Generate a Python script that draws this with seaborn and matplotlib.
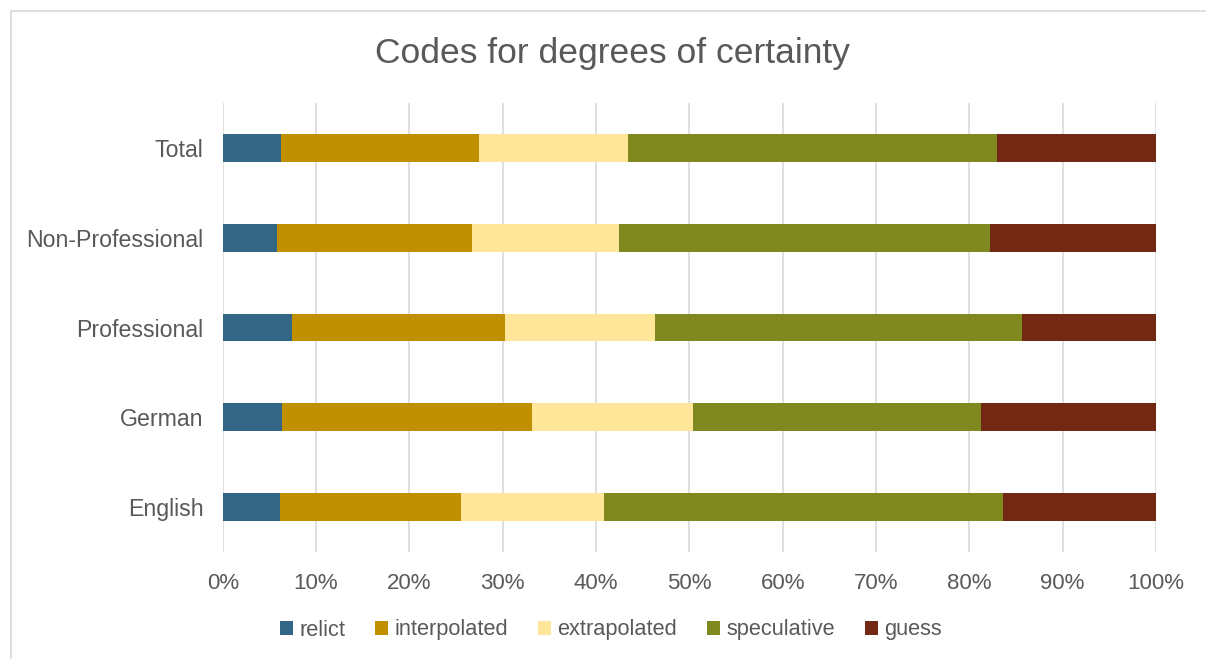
import matplotlib
matplotlib.use("Agg")
import matplotlib.pyplot as plt
import seaborn as sns
import pandas as pd
import numpy as np
from matplotlib.lines import Line2D
from matplotlib.patches import Patch

categories = ["Total", "Non-Professional", "Professional", "German", "English"]
series_names = ["relict", "interpolated", "extrapolated", "speculative", "guess"]
relict = [6.25, 5.8, 7.4, 6.4, 6.1]
interpolated = [21.25, 20.9, 22.8, 26.7, 19.4]
extrapolated = [15.9, 15.8, 16.1, 17.3, 15.4]
speculative = [39.6, 39.7, 39.3, 30.9, 42.7]
guess = [17.0, 17.8, 14.4, 18.7, 16.4]
tick_labels = ["0%", "10%", "20%", "30%", "40%", "50%", "60%", "70%", "80%", "90%", "100%"]

colors = ["#336685", "#C09000", "#FFE699", "#7F8920", "#722812"]
text_color = "#595959"
grid_color = "#D9D9D9"

sns.set_theme(style="white")
plt.rcParams["font.family"] = ["Liberation Sans", "DejaVu Sans"]

df = pd.DataFrame({"category": categories, "relict": relict, "interpolated": interpolated,
                   "extrapolated": extrapolated, "speculative": speculative, "guess": guess})
values = df[series_names].to_numpy()
totals = values.sum(axis=1, keepdims=True)
pct = values / totals * 100
cum = np.cumsum(pct, axis=1)

fig = plt.figure(figsize=(12.06, 6.59), dpi=100)
ax = fig.add_axes([222.7 / 1206, 1 - 551.7 / 659, (1156 - 222.7) / 1206, (551.7 - 103.3) / 659])

for i in range(len(series_names) - 1, -1, -1):
    d = pd.DataFrame({"category": categories, "value": cum[:, i]})
    sns.barplot(data=d, x="value", y="category", order=categories, orient="h",
                color=colors[i], width=0.31, ax=ax, saturation=1, zorder=3,
                linewidth=0)

ax.set_xlim(0, 100)
ax.set_ylim(4.5, -0.5)
ax.set_xticks(np.arange(0, 101, 10))
ax.set_xticklabels(tick_labels)
ax.set_xlabel("")
ax.set_ylabel("")
ax.xaxis.grid(True, color=grid_color, linewidth=1.2, zorder=0)
ax.set_axisbelow(True)
for s in ax.spines.values():
    s.set_visible(False)
ax.tick_params(axis="x", length=0, pad=15, labelsize=16, labelcolor=text_color)
ax.tick_params(axis="y", length=0, pad=14, labelsize=16.7, labelcolor=text_color)

fig.text(612.5 / 1206, 1 - 63.3 / 659, "Codes for degrees of certainty", ha="center",
         va="baseline", fontsize=25.5, color=text_color)

handles = [Patch(facecolor=c, edgecolor="none", label=n) for c, n in zip(colors, series_names)]
fig.legend(handles=handles, loc="center", bbox_to_anchor=(611 / 1206, 1 - 630 / 659),
           ncol=5, frameon=False, fontsize=15.7, handlelength=0.6, handleheight=0.6,
           handletextpad=0.3, columnspacing=1.35, labelcolor=text_color)

fig.add_artist(Line2D([11 / 1206, 11 / 1206], [0, 1 - 11 / 659], color=grid_color, lw=1.2))
fig.add_artist(Line2D([11 / 1206, 1], [1 - 11 / 659, 1 - 11 / 659], color=grid_color, lw=1.2))

fig.savefig("out.png", dpi=100, facecolor="white")
